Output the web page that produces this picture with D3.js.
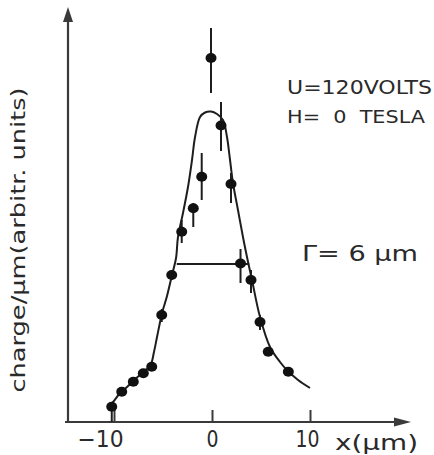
<!DOCTYPE html>
<html>
<head>
<meta charset="utf-8">
<script src="https://cdn.jsdelivr.net/npm/d3@7"></script>
<style>
  html, body { margin: 0; padding: 0; background: #fff; }
  svg { display: block; }
  text { font-family: "DejaVu Sans Condensed", "DejaVu Sans", sans-serif; fill: #2a2a2a; }
</style>
</head>
<body>
<svg id="chart" width="434" height="455"></svg>
<script>
// ---- data ----
const curveX = [-10.71, -10.10, -9.39, -8.67, -8.06, -7.35, -6.63, -6.22, -5.92, -5.61, -5.30, -5.10, -4.59, -4.08, -3.67, -3.47, -2.96, -2.45, -2.04, -1.73, -1.22, -0.71, -0.10, 0.51, 1.12, 1.53, 1.84, 2.14, 2.65, 3.16, 3.57, 4.08, 4.90, 5.92, 6.94, 7.65, 8.78, 10.0];
const curveY = [1.5, 2.0, 2.9, 3.5, 4.1, 4.7, 5.3, 5.8, 7.0, 8.5, 10.0, 10.9, 12.6, 14.7, 16.4, 18.5, 20.9, 23.5, 26.2, 28.5, 30.5, 30.95, 31.05, 30.8, 30.2, 28.5, 26.2, 23.9, 21.2, 18.5, 16.5, 14.2, 10.5, 7.5, 6.0, 5.2, 4.2, 3.4];

const pointX  = [-10.23, -9.21, -8.03, -7.01, -6.15, -5.13, -4.11, -3.09, -1.91, -1.05, -0.10, 0.92, 1.94, 2.91, 3.98, 4.90, 5.74, 7.79];
const pointY  = [1.53, 3.03, 4.03, 4.87, 5.53, 10.7, 14.7, 19.03, 21.37, 24.53, 36.4, 29.65, 23.8, 15.85, 14.2, 10.0, 7.03, 5.03];
const errLow  = [0.0, 3.03, 4.03, 4.87, 5.53, 10.0, 14.2, 17.9, 19.5, 22.2, 32.9, 27.1, 21.9, 13.9, 12.9, 9.2, 6.6, 5.03];
const errHigh = [1.53, 3.03, 4.03, 4.87, 5.53, 11.3, 15.2, 20.2, 21.9, 26.9, 39.4, 32.0, 24.9, 17.3, 15.2, 10.7, 7.5, 5.03];

const fwhmX = [-3.6, 3.8];
const fwhmY = 15.8;

const xTicks = [-10, 0, 10];
const xTickLabels = ["\u221210", "0", "10"];

const yLabel = "charge/\u03bcm(arbitr. units)";
const xLabel = "x(\u03bcm)";
const note1 = "U=120VOLTS";
const note2 = "H=  0  TESLA";
const note3 = "\u0393= 6 \u03bcm";

// ---- layout ----
const svg = d3.select("#chart");
const x = d3.scaleLinear().domain([-10, 10]).range([114, 310]);
const y = d3.scaleLinear().domain([0, 40]).range([422, 22]);

const ink = "#1e1e1e";
const axisInk = "#3a3a3a";

// axes lines with arrows
const x0 = 68, y0 = y(0);
svg.append("line").attr("x1", x0).attr("x2", x0).attr("y1", y0 + 1).attr("y2", 16)
  .attr("stroke", axisInk).attr("stroke-width", 2.2);
svg.append("path").attr("d", `M${x0},7 L${x0 - 5},22 L${x0 + 5},22 Z`).attr("fill", axisInk);

svg.append("line").attr("x1", 65).attr("x2", 398).attr("y1", y0).attr("y2", y0)
  .attr("stroke", axisInk).attr("stroke-width", 2.2);
svg.append("path").attr("d", `M411,${y0} L394,${y0 - 4.5} L394,${y0 + 4.5} Z`).attr("fill", axisInk);

// ticks via d3 axis
const ax = d3.axisBottom(x).tickValues(xTicks).tickSizeInner(-12).tickSizeOuter(0)
  .tickPadding(9).tickFormat((d, i) => xTickLabels[i]);
const gAx = svg.append("g").attr("transform", `translate(0,${y0})`).call(ax);
gAx.select(".domain").remove();
gAx.selectAll(".tick line").attr("stroke", axisInk).attr("stroke-width", 2);
gAx.selectAll(".tick text")
  .attr("font-size", 23)
  .attr("fill", "#2a2a2a")
  .attr("font-family", "'DejaVu Sans Condensed', 'DejaVu Sans', sans-serif")
  .attr("dx", (d) => d === -10 ? -14 : (d === 10 ? -3 : 0))
  .attr("textLength", (d) => d === -10 ? 46 : (d === 10 ? 24 : 12))
  .attr("lengthAdjust", "spacingAndGlyphs");

// x label
svg.append("text").attr("x", 335).attr("y", 450).attr("font-size", 22)
  .attr("textLength", 83).attr("lengthAdjust", "spacingAndGlyphs").text(xLabel);

// y label
svg.append("text")
  .attr("transform", "translate(25,240) rotate(-90)")
  .attr("text-anchor", "middle")
  .attr("font-size", 20)
  .attr("font-family", "'Open Sans', 'DejaVu Sans', sans-serif")
  .attr("textLength", 305).attr("lengthAdjust", "spacingAndGlyphs")
  .text(yLabel);

// fitted curve
const line = d3.line().x((d) => x(d[0])).y((d) => y(d[1])).curve(d3.curveCatmullRom.alpha(0.5));
svg.append("path").datum(curveX.map((v, i) => [v, curveY[i]]))
  .attr("d", line).attr("fill", "none").attr("stroke", ink).attr("stroke-width", 2);

// FWHM bar
svg.append("line").attr("x1", x(fwhmX[0])).attr("x2", x(fwhmX[1]))
  .attr("y1", y(fwhmY)).attr("y2", y(fwhmY)).attr("stroke", ink).attr("stroke-width", 2);

// error bars
svg.append("g").selectAll("line").data(pointX.map((v, i) => i).filter((i) => errHigh[i] > errLow[i]))
  .join("line")
  .attr("x1", (i) => x(pointX[i])).attr("x2", (i) => x(pointX[i]))
  .attr("y1", (i) => y(errLow[i])).attr("y2", (i) => y(errHigh[i]))
  .attr("stroke", ink).attr("stroke-width", 2);

// points
svg.append("g").selectAll("ellipse").data(pointX.map((v, i) => i)).join("ellipse")
  .attr("cx", (i) => x(pointX[i])).attr("cy", (i) => y(pointY[i]))
  .attr("rx", 5.5).attr("ry", 5).attr("fill", "#111");

// annotations
svg.append("text").attr("x", 287).attr("y", 94).attr("font-size", 20)
  .attr("textLength", 145).attr("lengthAdjust", "spacingAndGlyphs").text(note1);
svg.append("text").attr("x", 287).attr("y", 123).attr("font-size", 18)
  .attr("textLength", 138).attr("lengthAdjust", "spacingAndGlyphs")
  .style("white-space", "pre").text(note2);
svg.append("text").attr("x", 302).attr("y", 261).attr("font-size", 21)
  .attr("textLength", 116).attr("lengthAdjust", "spacingAndGlyphs")
  .style("white-space", "pre").text(note3);
</script>
</body>
</html>
